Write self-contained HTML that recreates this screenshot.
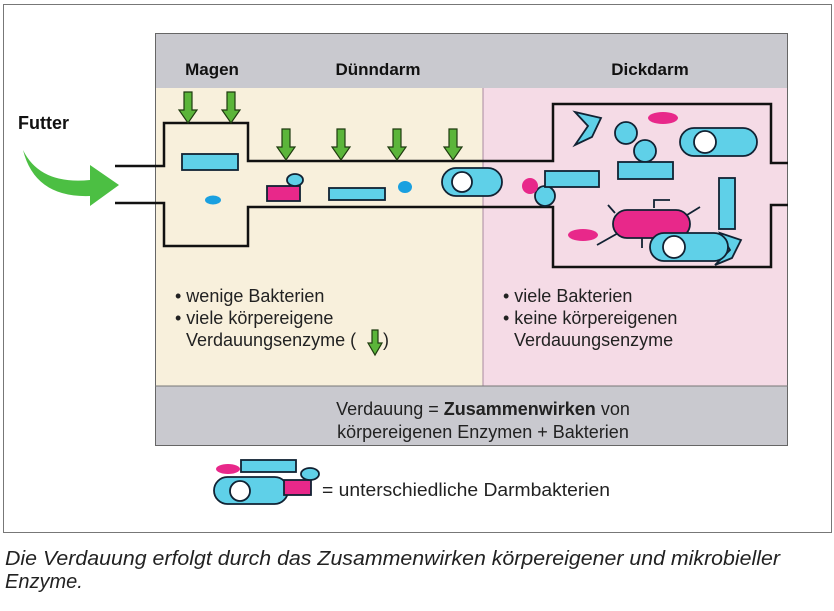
<!DOCTYPE html>
<html><head><meta charset="utf-8"><style>
body{margin:0;background:#fff;}
svg{display:block;font-family:"Liberation Sans",sans-serif;}
</style></head><body>
<svg width="834" height="611" viewBox="0 0 834 611" xmlns="http://www.w3.org/2000/svg">
<rect x="0" y="0" width="834" height="611" fill="#fff"/>
<rect x="3.5" y="4.5" width="828" height="528" fill="#fff" stroke="#777" stroke-width="1"/>
<rect x="155" y="33" width="633" height="55" fill="#c9c9cf"/>
<rect x="155" y="88" width="328" height="298" fill="#f8f0dc"/>
<rect x="483" y="88" width="305" height="298" fill="#f5dbe6"/>
<rect x="155" y="386" width="633" height="60" fill="#c9c9cf"/>
<rect x="155.5" y="33.5" width="632" height="412" fill="none" stroke="#666" stroke-width="1"/>
<line x1="483" y1="88" x2="483" y2="386" stroke="#a98aa0" stroke-width="1"/>
<line x1="155" y1="386" x2="788" y2="386" stroke="#777" stroke-width="1"/>
<g font-weight="bold" font-size="17" fill="#111" text-anchor="middle">
<text x="212" y="75">Magen</text><text x="378" y="75">Dünndarm</text><text x="650" y="75">Dickdarm</text>
</g>
<text x="18" y="129" font-weight="bold" font-size="18" fill="#111">Futter</text>
<path d="M23 150 Q40 185 90 180 L90 165 L119 185 L90 206 L90 196 Q35 198 23 150 Z" fill="#4cbf43"/>
<g fill="none" stroke="#111" stroke-width="2.5">
<path d="M115 166 H164 V123 H248 V161 H553 V104 H771 V163 H788"/>
<path d="M115 203 H164 V246 H248 V207 H553 V267 H771 V205 H788"/>
</g>
<g fill="#5bb53a" stroke="#1f3b10" stroke-width="1.2">
<path d="M-4 0 H4 V18 H9 L0 31 L-9 18 H-4 Z" transform="translate(188,92)"/>
<path d="M-4 0 H4 V18 H9 L0 31 L-9 18 H-4 Z" transform="translate(231,92)"/>
<path d="M-4 0 H4 V18 H9 L0 31 L-9 18 H-4 Z" transform="translate(286,129)"/>
<path d="M-4 0 H4 V18 H9 L0 31 L-9 18 H-4 Z" transform="translate(341,129)"/>
<path d="M-4 0 H4 V18 H9 L0 31 L-9 18 H-4 Z" transform="translate(397,129)"/>
<path d="M-4 0 H4 V18 H9 L0 31 L-9 18 H-4 Z" transform="translate(453,129)"/>
<path d="M-3 0 H3 V13 H7 L0 25 L-7 13 H-3 Z" transform="translate(375,330)"/>
</g>
<g stroke="#123" stroke-width="1.8">
<rect x="182" y="154" width="56" height="16" fill="#5fd0e8"/>
<rect x="267" y="186" width="33" height="15" fill="#e8288a"/>
<ellipse cx="295" cy="180" rx="8" ry="6" fill="#5fd0e8"/>
<rect x="329" y="188" width="56" height="12" fill="#5fd0e8"/>
<rect x="442" y="168" width="60" height="28" rx="14" fill="#5fd0e8"/>
<circle cx="462" cy="182" r="10" fill="#fff"/>
<circle cx="545" cy="196" r="10" fill="#5fd0e8"/>
<rect x="545" y="171" width="54" height="16" fill="#5fd0e8"/>
<path d="M575 112 L601 118 L592 137 L575 145 L588 126 Z" fill="#5fd0e8"/>
<circle cx="626" cy="133" r="11" fill="#5fd0e8"/>
<circle cx="645" cy="151" r="11" fill="#5fd0e8"/>
<rect x="618" y="162" width="55" height="17" fill="#5fd0e8"/>
<rect x="680" y="128" width="77" height="28" rx="14" fill="#5fd0e8"/>
<circle cx="705" cy="142" r="11" fill="#fff"/>
<rect x="719" y="178" width="16" height="51" fill="#5fd0e8"/>
<path d="M654 208 V200 H670 M615 213 L608 205 M687 215 L700 207 M620 232 L597 245 M642 238 V248" fill="none"/>
<rect x="613" y="210" width="77" height="28" rx="14" fill="#e8288a"/>
<path d="M720 233 L741 240 L732 258 L715 265 L730 250 Z" fill="#5fd0e8"/>
<rect x="650" y="233" width="78" height="28" rx="14" fill="#5fd0e8"/>
<circle cx="674" cy="247" r="11" fill="#fff"/>
</g>
<g fill="#1aa0e0">
<ellipse cx="213" cy="200" rx="8" ry="4.5"/>
<ellipse cx="405" cy="187" rx="7" ry="6"/>
</g>
<g fill="#e8288a">
<circle cx="530" cy="186" r="8"/>
<ellipse cx="663" cy="118" rx="15" ry="6"/>
<ellipse cx="583" cy="235" rx="15" ry="6"/>
<ellipse cx="228" cy="469" rx="12" ry="5"/>
</g>
<g font-size="18" fill="#222">
<text x="175" y="302">• wenige Bakterien</text>
<text x="175" y="324">• viele körpereigene</text>
<text x="186" y="346">Verdauungsenzyme (</text>
<text x="383" y="346">)</text>
<text x="503" y="302">• viele Bakterien</text>
<text x="503" y="324">• keine körpereigenen</text>
<text x="514" y="346">Verdauungsenzyme</text>
</g>
<g font-size="18" fill="#222" text-anchor="middle">
<text x="483" y="415">Verdauung = <tspan font-weight="bold">Zusammenwirken</tspan> von</text>
<text x="483" y="438">körpereigenen Enzymen + Bakterien</text>
</g>
<g stroke="#123" stroke-width="1.8">
<rect x="241" y="460" width="55" height="12" fill="#5fd0e8"/>
<rect x="214" y="477" width="74" height="27" rx="13.5" fill="#5fd0e8"/>
<circle cx="240" cy="491" r="10" fill="#fff"/>
<rect x="284" y="480" width="27" height="15" fill="#e8288a"/>
<ellipse cx="310" cy="474" rx="9" ry="6" fill="#5fd0e8"/>
</g>
<text x="322" y="496" font-size="18" fill="#222" textLength="288" lengthAdjust="spacingAndGlyphs">= unterschiedliche Darmbakterien</text>
<g font-size="20" font-style="italic" fill="#222">
<text x="5" y="565" textLength="775" lengthAdjust="spacingAndGlyphs">Die Verdauung erfolgt durch das Zusammenwirken körpereigener und mikrobieller</text>
<text x="5" y="588">Enzyme.</text>
</g>
</svg>
</body></html>
